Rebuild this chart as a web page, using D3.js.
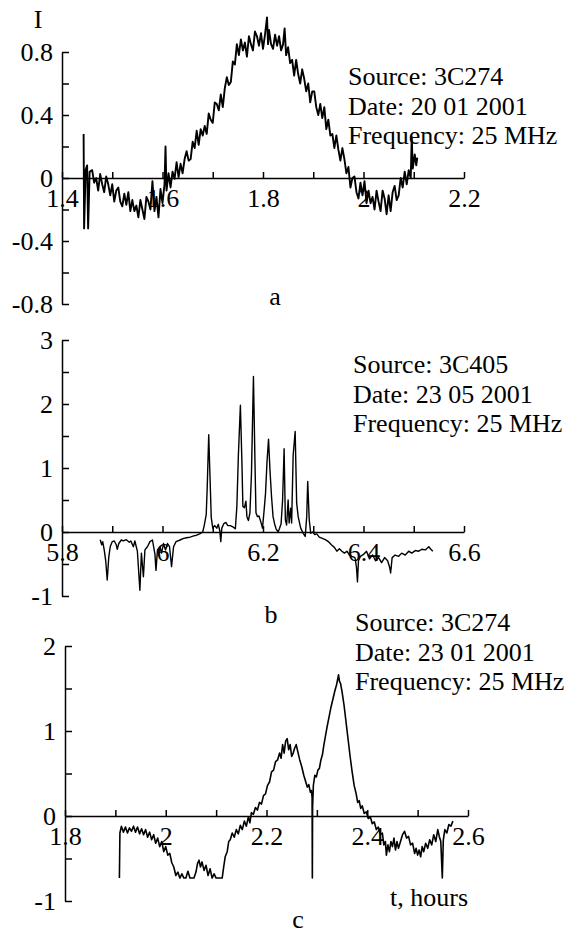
<!DOCTYPE html>
<html>
<head>
<meta charset="utf-8">
<script src="https://cdn.jsdelivr.net/npm/d3@7"></script>
<style>
  body { margin: 0; background: #fff; }
  svg text { font-family: 'Liberation Serif', 'DejaVu Serif', serif; font-size: 26px; fill: #000; }
</style>
</head>
<body>
<svg id="chart" width="570" height="934"></svg>
<script>
// [t (hours), I]
const seriesA = [
  [1.443,0.28],[1.444,-0.32],[1.447,0.05],[1.450,0.08],[1.452,-0.32],[1.455,0.04],[1.460,0.05],[1.464,-0.03],
  [1.468,0.00],[1.472,-0.08],[1.476,0.025],[1.480,-0.04],[1.484,-0.09],[1.488,0.01],[1.492,-0.04],[1.496,-0.11],
  [1.500,-0.04],[1.504,-0.15],[1.508,-0.08],[1.512,-0.06],[1.516,-0.15],[1.520,-0.18],[1.524,-0.10],[1.528,-0.17],
  [1.532,-0.09],[1.536,-0.21],[1.540,-0.14],[1.544,-0.21],[1.548,-0.175],[1.552,-0.25],[1.556,-0.14],[1.560,-0.20],
  [1.564,-0.26],[1.568,-0.12],[1.572,-0.15],[1.576,-0.20],[1.580,-0.02],[1.584,-0.21],[1.588,-0.12],[1.592,-0.25],
  [1.596,-0.07],[1.600,-0.16],[1.604,-0.04],[1.606,0.20],[1.608,-0.08],[1.612,0.03],[1.616,-0.06],[1.620,0.04],
  [1.624,-0.005],[1.628,0.10],[1.632,0.005],[1.636,0.09],[1.640,0.03],[1.644,0.12],[1.648,0.17],[1.652,0.11],
  [1.656,0.12],[1.660,0.23],[1.664,0.19],[1.668,0.30],[1.672,0.21],[1.676,0.31],[1.680,0.27],[1.684,0.33],
  [1.688,0.28],[1.692,0.41],[1.696,0.37],[1.700,0.35],[1.704,0.48],[1.708,0.47],[1.712,0.43],[1.716,0.53],
  [1.720,0.45],[1.724,0.57],[1.728,0.64],[1.732,0.59],[1.736,0.61],[1.740,0.74],[1.744,0.72],[1.748,0.85],
  [1.752,0.78],[1.756,0.88],[1.760,0.81],[1.764,0.86],[1.768,0.77],[1.772,0.90],[1.776,0.85],[1.780,0.81],
  [1.784,0.93],[1.788,0.90],[1.792,0.84],[1.796,0.92],[1.800,0.82],[1.804,0.91],[1.808,1.02],[1.810,0.85],
  [1.812,0.94],[1.816,0.85],[1.820,0.82],[1.824,0.91],[1.828,0.84],[1.832,0.90],[1.836,0.81],[1.840,0.85],
  [1.843,0.95],[1.846,0.78],[1.850,0.83],[1.854,0.73],[1.858,0.75],[1.862,0.65],[1.866,0.75],[1.870,0.66],
  [1.874,0.60],[1.878,0.69],[1.882,0.63],[1.886,0.55],[1.890,0.60],[1.894,0.48],[1.898,0.55],[1.902,0.55],
  [1.906,0.45],[1.910,0.40],[1.914,0.47],[1.918,0.38],[1.922,0.45],[1.926,0.31],[1.930,0.37],[1.934,0.27],
  [1.938,0.28],[1.942,0.19],[1.946,0.27],[1.950,0.18],[1.954,0.11],[1.958,0.19],[1.962,0.12],[1.966,0.03],
  [1.970,0.07],[1.974,-0.06],[1.978,0.00],[1.982,0.01],[1.986,-0.09],[1.990,-0.13],[1.994,-0.03],[1.998,-0.11],
  [2.002,-0.02],[2.006,-0.16],[2.010,-0.08],[2.014,-0.16],[2.018,-0.12],[2.022,-0.20],[2.026,-0.08],[2.030,-0.15],
  [2.034,-0.21],[2.038,-0.08],[2.042,-0.13],[2.046,-0.23],[2.050,-0.11],[2.054,-0.21],[2.058,-0.09],[2.062,-0.05],
  [2.066,-0.14],[2.070,-0.11],[2.074,0.00],[2.078,-0.06],[2.082,0.04],[2.086,-0.04],[2.090,0.05],[2.094,0.00],
  [2.096,0.26],[2.098,0.06],[2.102,0.15],[2.105,0.08],[2.107,0.13]
]

const seriesB = [
  [5.876,-0.12],[5.879,-0.20],[5.881,-0.15],[5.884,-0.28],[5.887,-0.45],[5.890,-0.75],[5.893,-0.40],[5.896,-0.23],
  [5.900,-0.15],[5.904,-0.14],[5.908,-0.20],[5.910,-0.27],[5.913,-0.18],[5.918,-0.125],[5.922,-0.14],[5.928,-0.12],
  [5.934,-0.16],[5.937,-0.14],[5.942,-0.23],[5.945,-0.14],[5.950,-0.30],[5.955,-0.91],[5.958,-0.33],[5.962,-0.70],
  [5.965,-0.28],[5.970,-0.23],[5.975,-0.15],[5.980,-0.125],[5.985,-0.35],[5.987,-0.60],[5.990,-0.28],[5.995,-0.23],
  [5.998,-0.33],[6.002,-0.18],[6.006,-0.28],[6.010,-0.18],[6.014,-0.23],[6.018,-0.54],[6.022,-0.23],[6.027,-0.15],
  [6.035,-0.125],[6.042,-0.10],[6.048,-0.09],[6.055,-0.08],[6.062,-0.06],[6.068,-0.05],[6.074,-0.03],[6.080,0.00],
  [6.083,0.10],[6.087,0.27],[6.089,0.70],[6.092,1.52],[6.094,1.00],[6.097,0.23],[6.100,0.06],[6.104,0.10],
  [6.108,0.06],[6.111,0.12],[6.114,0.02],[6.116,-0.15],[6.118,0.06],[6.122,0.13],[6.126,0.15],[6.130,0.10],
  [6.135,0.10],[6.140,0.08],[6.145,0.05],[6.148,0.40],[6.151,1.20],[6.155,1.98],[6.158,1.10],[6.160,0.40],
  [6.163,0.38],[6.166,0.48],[6.168,0.24],[6.171,0.18],[6.174,0.30],[6.177,0.90],[6.181,2.43],[6.184,1.10],
  [6.186,0.30],[6.189,0.24],[6.192,0.25],[6.196,0.15],[6.199,0.06],[6.202,0.32],[6.205,0.60],[6.208,1.10],
  [6.211,1.45],[6.214,0.95],[6.217,0.55],[6.220,0.24],[6.223,0.13],[6.226,0.05],[6.230,0.00],[6.233,0.06],
  [6.236,0.13],[6.239,0.50],[6.242,1.30],[6.2445,0.19],[6.247,0.11],[6.250,0.50],[6.252,0.14],[6.255,0.37],
  [6.257,0.14],[6.260,1.20],[6.264,1.57],[6.267,0.45],[6.270,0.24],[6.275,0.06],[6.280,-0.02],[6.284,-0.07],
  [6.287,0.24],[6.289,0.79],[6.292,0.19],[6.295,-0.02],[6.299,0.00],[6.303,-0.04],[6.307,-0.03],[6.312,-0.08],
  [6.318,-0.10],[6.324,-0.12],[6.330,-0.15],[6.336,-0.20],[6.342,-0.24],[6.347,-0.30],[6.352,-0.26],[6.357,-0.30],
  [6.362,-0.33],[6.367,-0.30],[6.372,-0.36],[6.377,-0.38],[6.383,-0.40],[6.386,-0.55],[6.388,-0.78],[6.390,-0.45],
  [6.394,-0.38],[6.400,-0.35],[6.406,-0.30],[6.412,-0.42],[6.418,-0.36],[6.424,-0.45],[6.430,-0.40],[6.436,-0.48],
  [6.442,-0.40],[6.448,-0.45],[6.452,-0.55],[6.454,-0.64],[6.457,-0.40],[6.463,-0.36],[6.470,-0.38],[6.476,-0.33],
  [6.483,-0.36],[6.490,-0.30],[6.496,-0.33],[6.503,-0.29],[6.510,-0.30],[6.516,-0.27],[6.523,-0.28],[6.530,-0.23],
  [6.534,-0.27],[6.538,-0.30]
]

const seriesC = [
  [1.908,-0.73],[1.909,-0.20],[1.912,-0.12],[1.916,-0.19],[1.920,-0.13],[1.924,-0.20],[1.928,-0.14],[1.932,-0.18],
  [1.936,-0.12],[1.940,-0.19],[1.944,-0.13],[1.948,-0.21],[1.952,-0.15],[1.956,-0.22],[1.960,-0.16],[1.964,-0.25],
  [1.968,-0.19],[1.972,-0.28],[1.976,-0.22],[1.980,-0.32],[1.984,-0.26],[1.988,-0.36],[1.992,-0.30],[1.996,-0.42],
  [2.000,-0.36],[2.004,-0.46],[2.008,-0.44],[2.012,-0.55],[2.016,-0.60],[2.020,-0.70],[2.024,-0.66],[2.028,-0.73],
  [2.032,-0.68],[2.036,-0.73],[2.040,-0.73],[2.044,-0.65],[2.048,-0.73],[2.052,-0.73],[2.056,-0.73],[2.060,-0.66],
  [2.063,-0.56],[2.066,-0.52],[2.069,-0.60],[2.072,-0.54],[2.076,-0.64],[2.080,-0.58],[2.084,-0.70],[2.088,-0.62],
  [2.092,-0.73],[2.096,-0.68],[2.100,-0.73],[2.106,-0.73],[2.112,-0.73],[2.115,-0.60],[2.118,-0.48],[2.122,-0.42],
  [2.125,-0.30],[2.128,-0.28],[2.132,-0.20],[2.136,-0.25],[2.140,-0.16],[2.144,-0.21],[2.148,-0.11],[2.152,-0.16],
  [2.156,-0.06],[2.160,-0.12],[2.164,-0.01],[2.167,-0.08],[2.170,0.04],[2.174,0.02],[2.178,0.10],[2.182,0.07],
  [2.186,0.16],[2.190,0.14],[2.194,0.24],[2.198,0.26],[2.202,0.36],[2.206,0.40],[2.210,0.52],[2.214,0.54],
  [2.218,0.64],[2.222,0.66],[2.226,0.74],[2.229,0.68],[2.232,0.84],[2.235,0.74],[2.238,0.88],[2.241,0.91],
  [2.244,0.78],[2.247,0.84],[2.250,0.70],[2.253,0.74],[2.256,0.80],[2.259,0.84],[2.262,0.76],[2.266,0.66],
  [2.270,0.58],[2.274,0.48],[2.278,0.40],[2.281,0.34],[2.284,0.37],[2.287,0.28],[2.289,0.30],[2.2905,0.22],
  [2.291,-0.73],[2.2915,0.10],[2.293,0.36],[2.296,0.48],[2.299,0.46],[2.302,0.54],[2.305,0.56],[2.308,0.66],
  [2.311,0.72],[2.314,0.84],[2.317,0.94],[2.320,1.04],[2.324,1.16],[2.328,1.28],[2.332,1.38],[2.336,1.48],
  [2.339,1.54],[2.341,1.60],[2.343,1.66],[2.345,1.58],[2.347,1.56],[2.350,1.46],[2.354,1.30],[2.358,1.10],
  [2.362,0.90],[2.366,0.70],[2.370,0.52],[2.374,0.36],[2.378,0.26],[2.381,0.16],[2.384,0.18],[2.387,0.09],
  [2.390,0.12],[2.394,0.03],[2.398,0.05],[2.402,-0.03],[2.406,-0.01],[2.410,-0.09],[2.414,-0.07],[2.418,-0.16],
  [2.422,-0.13],[2.426,-0.22],[2.430,-0.20],[2.433,-0.34],[2.436,-0.30],[2.438,-0.46],[2.441,-0.34],[2.444,-0.42],
  [2.447,-0.30],[2.450,-0.36],[2.453,-0.26],[2.456,-0.40],[2.459,-0.30],[2.462,-0.38],[2.466,-0.30],[2.470,-0.22],
  [2.474,-0.18],[2.478,-0.26],[2.482,-0.24],[2.486,-0.34],[2.490,-0.32],[2.494,-0.44],[2.497,-0.38],[2.500,-0.46],
  [2.503,-0.40],[2.506,-0.48],[2.509,-0.36],[2.512,-0.42],[2.516,-0.32],[2.520,-0.38],[2.524,-0.28],[2.528,-0.34],
  [2.532,-0.22],[2.536,-0.30],[2.540,-0.16],[2.543,-0.24],[2.546,-0.30],[2.549,-0.73],[2.551,-0.28],[2.554,-0.16],
  [2.558,-0.20],[2.562,-0.10],[2.566,-0.12],[2.570,-0.06]
]

const xTicksA = [1.4, 1.5, 1.6, 1.7, 1.8, 1.9, 2.0, 2.1, 2.2]
const xLabelsA = ['1.4', '', '1.6', '', '1.8', '', '2', '', '2.2']
const yTicksA = [0.8, 0.6, 0.4, 0.2, 0, -0.2, -0.4, -0.6, -0.8]
const yLabelsA = ['0.8', '', '0.4', '', '0', '', '-0.4', '', '-0.8']

const xTicksB = [5.8, 5.9, 6.0, 6.1, 6.2, 6.3, 6.4, 6.5, 6.6]
const xLabelsB = ['5.8', '', '6', '', '6.2', '', '6.4', '', '6.6']
const yTicksB = [3, 2.5, 2, 1.5, 1, 0.5, 0, -0.5, -1]
const yLabelsB = ['3', '', '2', '', '1', '', '0', '', '-1']

const xTicksC = [1.8, 1.9, 2.0, 2.1, 2.2, 2.3, 2.4, 2.5, 2.6]
const xLabelsC = ['1.8', '', '2', '', '2.2', '', '2.4', '', '2.6']
const yTicksC = [2, 1.5, 1, 0.5, 0, -0.5, -1]
const yLabelsC = ['2', '', '1', '', '0', '', '-1']

const infoA = ['Source: 3C274', 'Date: 20 01 2001', 'Frequency: 25 MHz']
const infoB = ['Source: 3C405', 'Date: 23 05 2001', 'Frequency: 25 MHz']
const infoC = ['Source: 3C274', 'Date: 23 01 2001', 'Frequency: 25 MHz']

const svg = d3.select('#chart')

function drawPanel(p) {
  const g = svg.append('g')

  const x = d3.scaleLinear()
    .domain(d3.extent(p.xTicks))
    .range(p.xRange)
  const y = d3.scaleLinear()
    .domain(d3.extent(p.yTicks))
    .range(p.yRange)

  // x axis sits on I = 0, ticks point up
  g.append('g')
    .attr('transform', `translate(0,${y(0)})`)
    .call(d3.axisBottom(x)
      .tickValues(p.xTicks)
      .tickFormat((d, i) => p.xLabels[i])
      .tickSize(-6)
      .tickSizeOuter(0)
      .tickPadding(10.5))

  // y axis, ticks point right, labels on the left
  const yAxis = g.append('g')
    .attr('transform', `translate(${p.xRange[0]},0)`)
    .call(d3.axisLeft(y)
      .tickValues(p.yTicks)
      .tickFormat((d, i) => p.yLabels[i])
      .tickSize(-7)
      .tickSizeOuter(0)
      .tickPadding(9))

  g.selectAll('.domain, .tick line')
    .attr('stroke', '#000')
    .attr('stroke-width', 1.5)
  yAxis.selectAll('.tick text').attr('dy', '0.32em')

  g.append('path')
    .datum(p.data)
    .attr('fill', 'none')
    .attr('stroke', '#000')
    .attr('stroke-width', p.lineWidth)
    .attr('stroke-linejoin', 'round')
    .attr('d', d3.line()
      .x(d => x(d[0]))
      .y(d => y(d[1])))

  g.selectAll('text.info')
    .data(p.info)
    .enter()
    .append('text')
      .attr('class', 'info')
      .attr('x', p.infoX)
      .attr('y', (d, i) => p.infoY + i * 29.5)
      .text(d => d)

  g.append('text')
    .attr('x', p.letterPos[0])
    .attr('y', p.letterPos[1])
    .attr('text-anchor', 'middle')
    .text(p.letter)
}

drawPanel({
  data: seriesA, xTicks: xTicksA, xLabels: xLabelsA, yTicks: yTicksA, yLabels: yLabelsA,
  xRange: [62, 464], yRange: [304, 52], lineWidth: 1.9,
  info: infoA, infoX: 348, infoY: 85, letter: 'a', letterPos: [275, 305]
})

drawPanel({
  data: seriesB, xTicks: xTicksB, xLabels: xLabelsB, yTicks: yTicksB, yLabels: yLabelsB,
  xRange: [62, 464], yRange: [596, 340], lineWidth: 1.4,
  info: infoB, infoX: 353, infoY: 373, letter: 'b', letterPos: [271, 623]
})

drawPanel({
  data: seriesC, xTicks: xTicksC, xLabels: xLabelsC, yTicks: yTicksC, yLabels: yLabelsC,
  xRange: [65, 468], yRange: [901, 646], lineWidth: 1.6,
  info: infoC, infoX: 355, infoY: 631, letter: 'c', letterPos: [298, 928]
})

// axis titles
svg.append('text')
  .attr('x', 38)
  .attr('y', 28)
  .attr('text-anchor', 'middle')
  .text('I')

svg.append('text')
  .attr('x', 468)
  .attr('y', 906)
  .attr('text-anchor', 'end')
  .text('t, hours')
</script>
</body>
</html>
